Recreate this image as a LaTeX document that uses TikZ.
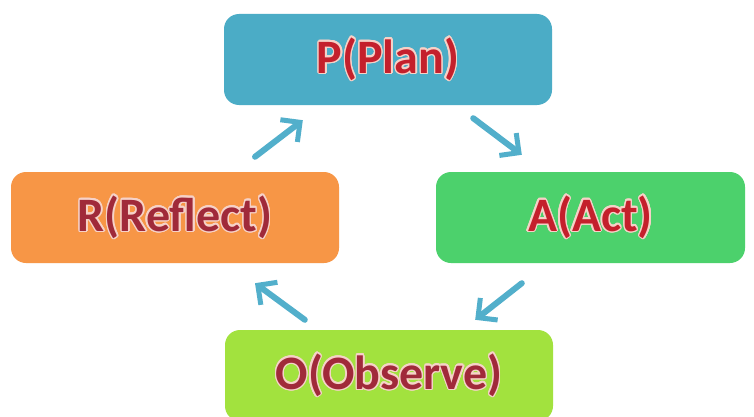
\documentclass[tikz,border=0pt]{standalone}
\usepackage{fontspec}
\setmainfont{Carlito}
\usepackage{contour}
\contourlength{1.3pt}
\contournumber{20}
\usetikzlibrary{arrows.meta}

\definecolor{planblue}{HTML}{4BACC6}
\definecolor{reflorange}{HTML}{F79646}
\definecolor{actgreen}{HTML}{4CD16C}
\definecolor{obsgreen}{HTML}{A2E23E}
\definecolor{arrowblue}{HTML}{52AFCB}
\definecolor{textred}{HTML}{C4202C}
\definecolor{textdark}{HTML}{A02A3A}
\definecolor{glow}{HTML}{F6D2C8}

\begin{document}
\begin{tikzpicture}[
  x=1pt, y=1pt,
  phase/.style={rounded corners=15pt, minimum width=328pt, minimum height=91pt,
                inner sep=0pt, font=\fontsize{48}{48}\selectfont\bfseries},
  cyc/.style={-{Straight Barb[length=14pt,width=28pt,line width=5pt]},
              line width=6pt, arrowblue, line cap=round}
]
  \useasboundingbox[fill=white] (0,0) rectangle (754,416);
  \begin{scope}
  \clip (0,0) rectangle (754,416);

  % the four phases
  \node[phase, fill=planblue] (plan) at (388,356.5)
    {\color{textred}\contour{glow}{P(Plan)}};
  \node[phase, fill=reflorange] (reflect) at (175,198.5)
    {\color{textdark}\contour{glow}{R(Reflect)}};
  \node[phase, fill=actgreen, minimum width=309pt] (act) at (590.5,198.5)
    {\color{textred}\contour{glow}{A(Act)}};
  \node[phase, fill=obsgreen] (observe) at (389,40.5)
    {\color{textdark}\contour{glow}{O(Observe)}};

  % cycle arrows
  \draw[cyc] ([xshift=80pt,yshift=15pt]reflect.north) -- ([xshift=79pt,yshift=-15pt]plan.south west);
  \draw[cyc] ([xshift=-79pt,yshift=-13pt]plan.south east) -- ([xshift=86pt,yshift=17pt]act.north west);
  \draw[cyc] ([xshift=86pt,yshift=-20pt]act.south west) -- ([xshift=-78pt,yshift=10pt]observe.north east);
  \draw[cyc] ([xshift=80pt,yshift=10pt]observe.north west) -- ([xshift=80pt,yshift=-20pt]reflect.south);
  \end{scope}
\end{tikzpicture}
\end{document}
